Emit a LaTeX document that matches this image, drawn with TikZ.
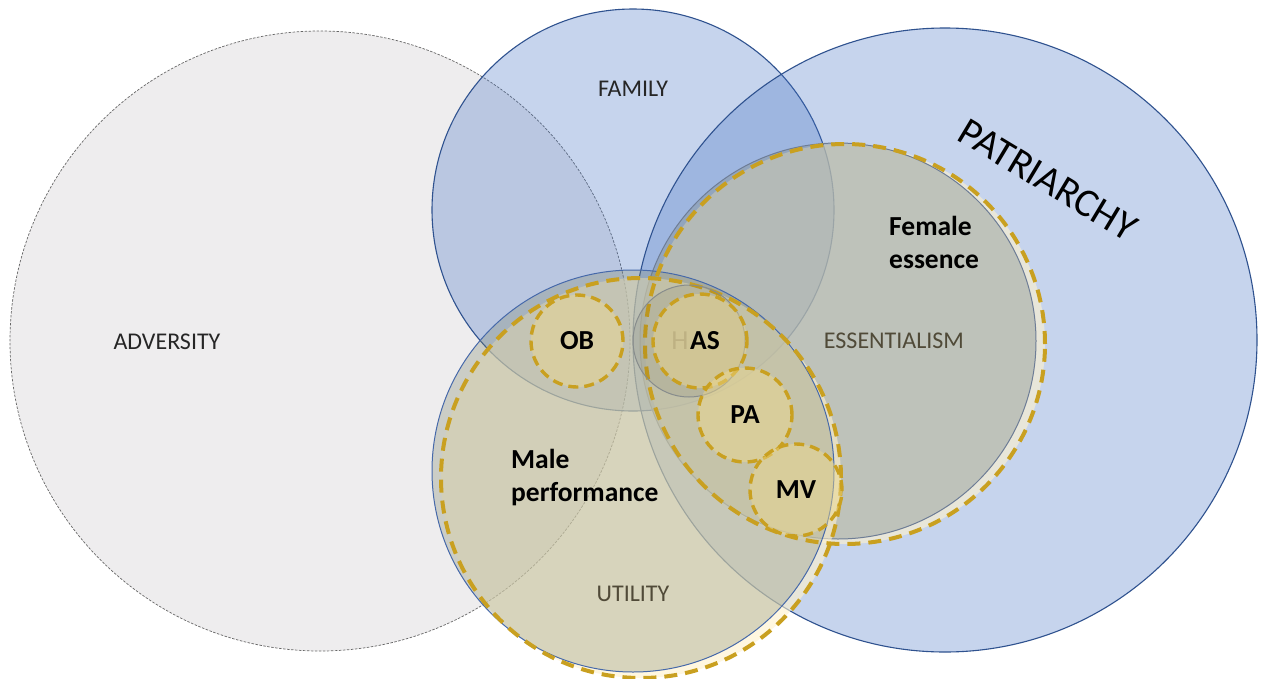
\documentclass[tikz,border=0pt]{standalone}
\usepackage{fontspec}
\setmainfont{Carlito}
\definecolor{goldc}{RGB}{201,160,32}
\definecolor{creamc}{RGB}{255,242,204}
\definecolor{dotfill}{RGB}{240,218,140}
\definecolor{advc}{RGB}{238,237,238}
\definecolor{essc}{RGB}{128,140,140}
\definecolor{utic}{RGB}{125,133,108}
\definecolor{bluec}{RGB}{68,114,196}
\definecolor{rimblue}{RGB}{47,82,143}
\definecolor{essrim}{RGB}{110,125,150}
\definecolor{utirim}{RGB}{70,105,170}
\definecolor{hrim}{RGB}{135,140,140}
\definecolor{htext}{RGB}{150,145,125}
\definecolor{softtext}{RGB}{80,74,56}
\begin{document}
\begin{tikzpicture}[x=1pt,y=-1pt,
  bluefill/.style={fill=bluec, fill opacity=0.3},
  bluerim/.style={draw=rimblue, line width=1.1pt},
  goldrim/.style={draw=goldc, line width=4pt, dash pattern=on 13pt off 8pt},
  smallgold/.style={draw=goldc, line width=3.4pt, dash pattern=on 10pt off 6pt,
    fill=dotfill, fill opacity=0.45},
  plainlbl/.style={font=\fontsize{24}{28}\selectfont, text=black!85},
  softlbl/.style={font=\fontsize{24}{28}\selectfont, text=softtext},
  boldlbl/.style={font=\fontsize{27.5}{33}\selectfont\bfseries, text=black},
]
\useasboundingbox (0,0) rectangle (1264,678);
\fill[white] (0,0) rectangle (1264,678);

% circle centres
\coordinate (cAdv) at (320,341);
\coordinate (cFam) at (633,210);
\coordinate (cPat) at (945,340);
\coordinate (cEss) at (838,341);
\coordinate (cFem) at (845,344);
\coordinate (cUti) at (633,471);
\coordinate (cMal) at (641,478);
\coordinate (cH)   at (689,341);
\coordinate (cOB)  at (577,341);
\coordinate (cAS)  at (700,341);
\coordinate (cPA)  at (745,415);
\coordinate (cMV)  at (796,490);

% adversity
\fill[advc] (cAdv) circle (310pt);
\draw[black!60, line width=0.7pt, dash pattern=on 2.5pt off 1.5pt] (cAdv) circle (310pt);

% family and patriarchy
\fill[bluefill] (cFam) circle (201pt);
\draw[bluerim] (cFam) circle (201pt);
\fill[bluefill] (cPat) circle (312pt);
\draw[bluerim] (cPat) circle (312pt);

% essentialism with its dashed "female essence" ring
\fill[creamc, fill opacity=0.6] (cFem) circle (200pt);
\fill[essc, fill opacity=0.4] (cEss) circle (198pt);
\draw[essrim, line width=1pt] (cEss) circle (198pt);

% utility with its dashed "male performance" ring
\fill[creamc, fill opacity=0.6] (cMal) circle (200pt);
\fill[utic, fill opacity=0.3] (cUti) circle (201pt);
\draw[utirim, line width=1pt] (cUti) circle (201pt);

% dashed rings on top
\draw[goldrim] (cFem) circle (200pt);
\draw[goldrim] (cMal) circle (200pt);

% the small grey circle behind AS
\fill[black, fill opacity=0.06] (cH) circle (56pt);
\draw[hrim, line width=1pt] (cH) circle (56pt);
\node[font=\fontsize{27.5}{33}\selectfont, text=htext] (hlbl) at (680,341) {H};

% small dashed circles
\draw[smallgold] (cOB) circle (46pt);
\draw[smallgold] (cAS) circle (47pt);
\draw[smallgold] (cPA) circle (47pt);
\draw[smallgold] (cMV) circle (46pt);

% labels
\node[plainlbl] (lFam) at (633,89) {FAMILY};
\node[plainlbl] (lAdv) at (167,342) {ADVERSITY};
\node[softlbl] (lEss) at (894,341) {ESSENTIALISM};
\node[softlbl] (lUti) at (633,594) {UTILITY};
\node[font=\fontsize{40}{44}\selectfont, text=black, rotate=-31] (lPat) at (1048,180) {PATRIARCHY};
\node[boldlbl, align=left, anchor=west, inner sep=0pt] (lFem) at (889,242) {Female\\essence};
\node[boldlbl, align=left, anchor=west, inner sep=0pt] (lMal) at (511,478) {Male\\performance};
\node[boldlbl] (lOB) at (cOB) {OB};
\node[boldlbl] (lAS) at (705,341) {AS};
\node[boldlbl] (lPA) at (cPA) {PA};
\node[boldlbl] (lMV) at (cMV) {MV};
\end{tikzpicture}
\end{document}
